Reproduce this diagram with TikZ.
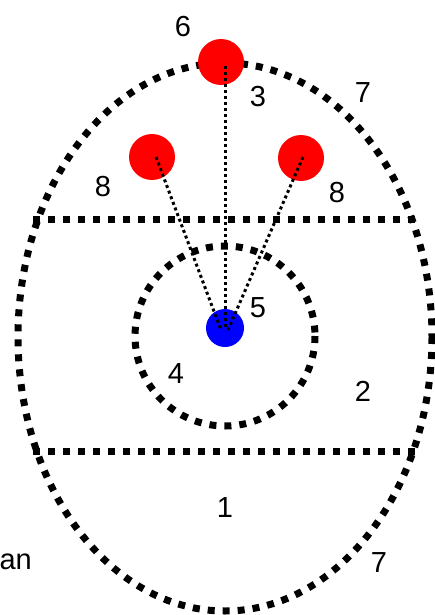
\documentclass[tikz,border=0pt]{standalone}
\usepackage{fontspec}
\setmainfont{Liberation Sans}
\begin{document}
\begin{tikzpicture}[x=1pt,y=-1pt,
  bigdot/.style={line width=7pt,dash pattern=on 7pt off 8pt},
  smalldot/.style={line width=3pt,dash pattern=on 3pt off 3pt},
  redball/.style={circle,fill=red,minimum size=46pt,inner sep=0pt},
  blueball/.style={circle,fill=blue,minimum size=38pt,inner sep=0pt},
  lbl/.style={font=\fontsize{29}{29}\selectfont,inner sep=0pt}]
\useasboundingbox (0,0) rectangle (435,615);
\draw[bigdot] (225,337) ellipse [x radius=207, y radius=274];
\draw[bigdot] (225,336) circle [radius=90];
\coordinate (h1a) at (33,219); \coordinate (h1b) at (416,219);
\coordinate (h2a) at (33,451); \coordinate (h2b) at (416,451);
\draw[bigdot] (h1a) -- (h1b);
\draw[bigdot] (h2a) -- (h2b);
\node[redball] (rt) at (221,62) {};
\node[redball] (rl) at (152,157) {};
\node[redball] (rr) at (301,158) {};
\node[blueball] (bl) at (225,328) {};
\coordinate (st) at (225,66); \coordinate (sl) at (156,157); \coordinate (sr) at (303,157);
\coordinate (et) at (225,330); \coordinate (el) at (221,330); \coordinate (er) at (228,330);
\draw[smalldot] (st) -- (et);
\draw[smalldot] (sl) -- (el);
\draw[smalldot] (sr) -- (er);
\node[lbl] (n6) at (183,27) {6};
\node[lbl] (n3) at (258,97) {3};
\node[lbl] (n7a) at (363,93) {7};
\node[lbl] (n8a) at (103,187) {8};
\node[lbl] (n8b) at (337,193) {8};
\node[lbl] (n5) at (258,308) {5};
\node[lbl] (n4) at (176,374) {4};
\node[lbl] (n2) at (363,391) {2};
\node[lbl] (n1) at (225,508) {1};
\node[lbl] (n7b) at (379,563) {7};
\node[lbl,anchor=east] (an) at (32,562) {an};
\end{tikzpicture}
\end{document}
